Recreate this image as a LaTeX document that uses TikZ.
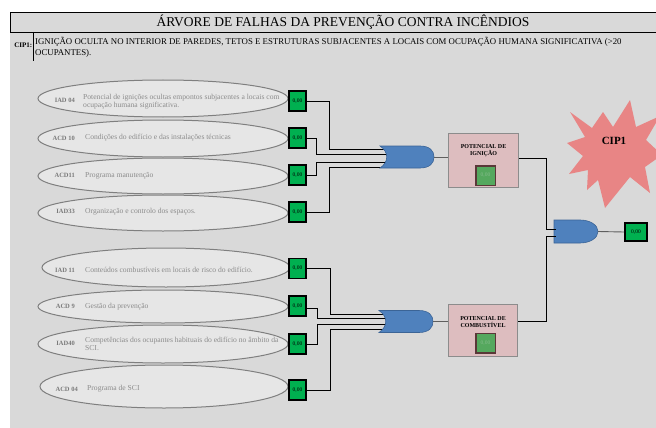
\documentclass[tikz,border=0pt]{standalone}
\usepackage{fontspec}
\setmainfont{Liberation Serif}
\usetikzlibrary{shapes.geometric}
\definecolor{bg}{HTML}{D9D9D9}
\definecolor{ellfill}{HTML}{E6E6E6}
\definecolor{elldraw}{HTML}{7F7F7F}
\definecolor{lblgray}{HTML}{7A7A7A}
\definecolor{txtgray}{HTML}{8C8C8C}
\definecolor{boxgreen}{HTML}{00B050}
\definecolor{pinkfill}{HTML}{DDBDBF}
\definecolor{pinkdraw}{HTML}{8C8C8C}
\definecolor{innergreen}{HTML}{55A85E}
\definecolor{innerdraw}{HTML}{5A3838}
\definecolor{innertxt}{HTML}{86BC8C}
\definecolor{gateblue}{HTML}{4F81BD}
\definecolor{gatedraw}{HTML}{3B6496}
\definecolor{starfill}{HTML}{E88585}
\definecolor{outwire}{HTML}{5F5F5F}
\tikzset{
  ell/.style={ellipse, draw=elldraw, fill=ellfill, line width=1pt, inner sep=0pt, minimum width=250pt},
  lbl/.style={anchor=east, text=lblgray, font=\bfseries\fontsize{6.5}{7.5}\selectfont, inner sep=0pt},
  desc/.style={anchor=west, text=txtgray, font=\fontsize{7.6}{8}\selectfont, align=left, inner sep=0pt},
  gbox/.style={rectangle, draw=black, line width=1.8pt, fill=boxgreen, minimum width=17pt, minimum height=20pt, inner sep=0pt, font=\fontsize{5.5}{6}\selectfont, text=black},
  pbox/.style={rectangle, draw=pinkdraw, fill=pinkfill, line width=1.2pt, inner sep=0pt},
  ibox/.style={rectangle, draw=innerdraw, fill=innergreen, line width=1.5pt, minimum width=19.5pt, minimum height=19.5pt, inner sep=0pt, font=\fontsize{5.5}{6}\selectfont, text=innertxt},
  ptxt/.style={font=\bfseries\fontsize{6}{7.5}\selectfont, align=center, inner sep=0pt},
  wire/.style={line width=0.7pt, black},
  owire/.style={line width=0.9pt, outwire},
  gate/.style={fill=gateblue, draw=gatedraw, line width=0.6pt},
}
\begin{document}
\begin{tikzpicture}[x=1pt, y=-1pt]
\useasboundingbox (0,0) rectangle (656,428);
\clip (0,0) rectangle (656,428);
\fill[white] (0,0) rectangle (656,428);
\fill[bg] (10,12) rectangle (660,430);
% title bar
\draw[line width=0.9pt] (10,12) rectangle (662,32);
\node[font=\fontsize{13.5}{15}\selectfont, inner sep=0pt] (title) at (343,22) {ÁRVORE DE FALHAS DA PREVENÇÃO CONTRA INCÊNDIOS};
% subtitle
\node[font=\bfseries\fontsize{7}{8}\selectfont, anchor=east, inner sep=0pt] (cip) at (32.5,45) {CIP1:};
\draw[line width=1.2pt] (33.5,32) -- (33.5,61);
\node[font=\fontsize{8.8}{11}\selectfont, anchor=north west, align=left, inner sep=0pt] (sub) at (35,36.5) {IGNIÇÃO OCULTA NO INTERIOR DE PAREDES, TETOS E ESTRUTURAS SUBJACENTES A LOCAIS COM OCUPAÇÃO HUMANA SIGNIFICATIVA (>20\\OCUPANTES).};

% ellipses
\node[ell, minimum height=37pt] (e1) at (163,98.5) {};
\node[ell, minimum height=37pt] (e2) at (163,138.5) {};
\node[ell, minimum height=36pt] (e3) at (163,176) {};
\node[ell, minimum height=36pt] (e4) at (163,213) {};
\node[ell, minimum height=39pt, minimum width=248pt] (e5) at (166,267.5) {};
\node[ell, minimum height=33pt] (e6) at (163,306.5) {};
\node[ell, minimum height=38pt] (e7) at (163,344) {};
\node[ell, minimum height=43pt, minimum width=248pt] (e8) at (164,386.5) {};

% labels and descriptions
\node[lbl] (l1) at (75,100) {IAD 04};
\node[desc] (d1) at (83,101.5) {Potencial de ignições ocultas empontos subjacentes a locais com\\ocupação humana significativa.};
\node[lbl] (l2) at (75,138) {ACD 10};
\node[desc] (d2) at (85,138) {Condições do edifício e das instalações técnicas};
\node[lbl] (l3) at (75,175.7) {ACD11};
\node[desc] (d3) at (85,175.7) {Programa manutenção};
\node[lbl] (l4) at (75,211.7) {IAD33};
\node[desc] (d4) at (85,211.7) {Organização e controlo dos espaços.};
\node[lbl] (l5) at (75,270) {IAD 11};
\node[desc] (d5) at (85,270) {Conteúdos combustíveis em locais de risco do edifício.};
\node[lbl] (l6) at (75,306.7) {ACD 9};
\node[desc] (d6) at (85,306.7) {Gestão da prevenção};
\node[lbl] (l7) at (75,343) {IAD40};
\node[desc] (d7) at (85,343.5) {Competências dos ocupantes habituais do edifício no âmbito da\\SCI.};
\node[lbl] (l8) at (78,389) {ACD 04};
\node[desc] (d8) at (87,389) {Programa de SCI};

% green boxes
\node[gbox] (g1) at (297.5,101) {0,00};
\node[gbox] (g2) at (297.5,138) {0,00};
\node[gbox] (g3) at (297.5,175) {0,00};
\node[gbox] (g4) at (297.5,212) {0,00};
\node[gbox] (g5) at (297.5,268.5) {0,00};
\node[gbox] (g6) at (297.5,306) {0,00};
\node[gbox] (g7) at (297.5,344) {0,00};
\node[gbox] (g8) at (297.5,390) {0,00};
\node[gbox, minimum width=22pt, minimum height=18pt] (gout) at (636,232) {0,00};

% gate input points
\coordinate (a1) at (388,149);
\coordinate (a2) at (388,154);
\coordinate (a3) at (388,162);
\coordinate (a4) at (388,167);
\coordinate (b1) at (387,314);
\coordinate (b2) at (387,318);
\coordinate (b3) at (387,324);
\coordinate (b4) at (387,329);
\coordinate (c1) at (556,229);
\coordinate (c2) at (556,236);
\coordinate (go1) at (434,157);
\coordinate (go2) at (433,321.5);
\coordinate (go3) at (598,231.5);

% wires, upper group
\draw[wire] (g1.east) -- ++(22,0) |- (a1);
\draw[wire] (g2.east) -- ++(9,0) |- (a2);
\draw[wire] (g3.east) -- ++(9,0) |- (a3);
\draw[wire] (g4.east) -- ++(22,0) |- (a4);
% wires, lower group
\draw[wire] (g5.east) -- ++(23,0) |- (b1);
\draw[wire] ([yshift=-2pt]g6.east) -- ++(10,0) |- (b2);
\draw[wire] (g7.east) -- ++(10,0) |- (b3);
\draw[wire] (g8.east) -- ++(23,0) |- (b4);

% OR gates
\begin{scope}[shift={(380,146)}]
\draw[gate] (0,0) -- (40,0) .. controls (50,0) and (54,5) .. (54,11) .. controls (54,17) and (50,22) .. (40,22) -- (0,22) .. controls (9,16) and (9,6) .. (0,0) -- cycle;
\end{scope}
\begin{scope}[shift={(379,310.5)}]
\draw[gate] (0,0) -- (40,0) .. controls (50,0) and (54,5) .. (54,11) .. controls (54,17) and (50,22) .. (40,22) -- (0,22) .. controls (9,16) and (9,6) .. (0,0) -- cycle;
\end{scope}
% AND gate
\begin{scope}[shift={(554,220)}]
\draw[gate] (0,0) -- (26,0) .. controls (36,0) and (44,5) .. (44,11.5) .. controls (44,18) and (36,23) .. (26,23) -- (0,23) -- cycle;
\end{scope}

% pink boxes
\node[pbox, minimum width=70pt, minimum height=54pt] (p1) at (483.5,160.5) {};
\node[ptxt] (pt1) at (483.5,150.5) {POTENCIAL DE\\IGNIÇÃO};
\node[ibox] (i1) at (485.5,175.5) {0,00};
\node[pbox, minimum width=69pt, minimum height=52pt] (p2) at (483,330.5) {};
\node[ptxt] (pt2) at (483,322) {POTENCIAL DE\\COMBUSTÍVEL};
\node[ibox] (i2) at (485.5,343) {0,00};

% output wires
\draw[owire] (go1) -- (go1 -| p1.west);
\draw[owire] (go2) -- (go2 -| p2.west);
\draw[wire] (p1.east |- 0,158) -- (546,158) |- (c1);
\draw[wire] (p2.east |- go2) -- (546,321.5) |- (c2);
\draw[owire] (go3) -- (gout.west);

% star
\fill[starfill] (570,112) -- (592,128) -- (603,112) -- (613,127) -- (630,100) -- (636,127) -- (660,116) -- (646,140) -- (662,155) -- (645,167) -- (650,193) -- (630,177) -- (605,208) -- (598,180) -- (587,190) -- (588,170) -- (569,174) -- (583,156) -- (567,143) -- (585,137) -- cycle;
\node[font=\bfseries\fontsize{11}{12}\selectfont, inner sep=0pt] (starlbl) at (614,141) {CIP1};
\end{tikzpicture}
\end{document}
